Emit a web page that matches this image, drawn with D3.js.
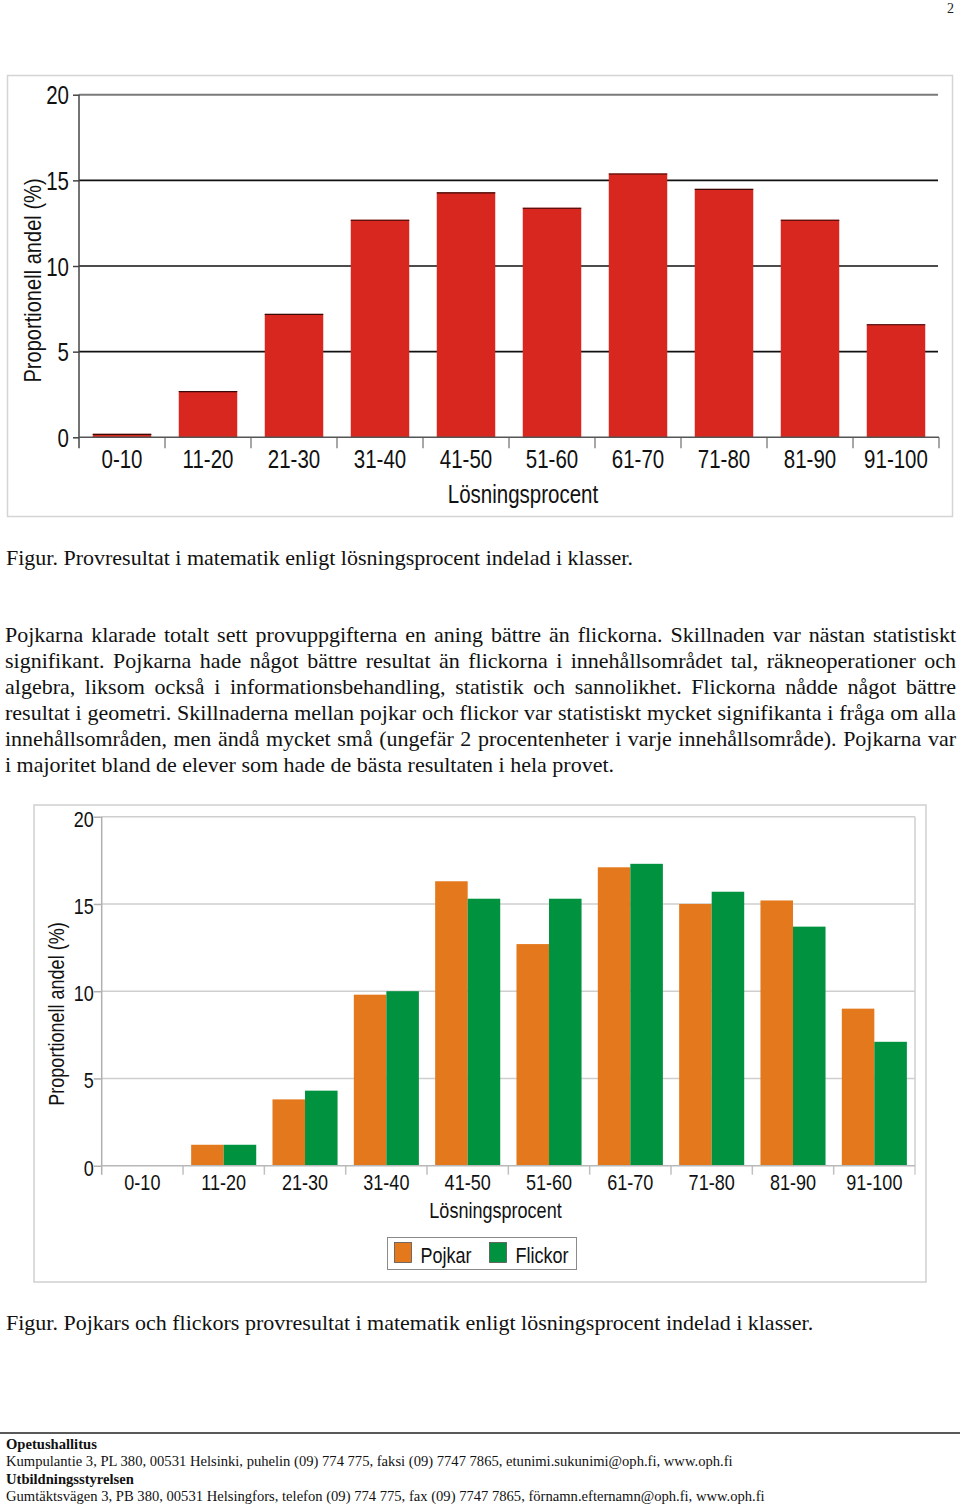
<!DOCTYPE html>
<html>
<head>
<meta charset="utf-8">
<script src="https://cdn.jsdelivr.net/npm/d3@7"></script>
<style>
  body { margin: 0; background: #fff; }
  svg { display: block; }
</style>
</head>
<body>
<script>
// values
const categories = ["0-10", "11-20", "21-30", "31-40", "41-50", "51-60", "61-70", "71-80", "81-90", "91-100"];
const totalShare = [0.2, 2.7, 7.2, 12.7, 14.3, 13.4, 15.4, 14.5, 12.7, 6.6];
const boysShare  = [0, 1.2, 3.8, 9.8, 16.3, 12.7, 17.1, 15.0, 15.2, 9.0];
const girlsShare = [0, 1.2, 4.3, 10.0, 15.3, 15.3, 17.3, 15.7, 13.7, 7.1];
const seriesNames = ["Pojkar", "Flickor"];
const yTicks = [0, 5, 10, 15, 20];

const caption1 = "Figur. Provresultat i matematik enligt lösningsprocent indelad i klasser.";
const caption2 = "Figur. Pojkars och flickors provresultat i matematik enligt lösningsprocent indelad i klasser.";
const paragraph = [
  "Pojkarna klarade totalt sett provuppgifterna en aning bättre än flickorna. Skillnaden var nästan statistiskt",
  "signifikant. Pojkarna hade något bättre resultat än flickorna i innehållsområdet tal, räkneoperationer och",
  "algebra, liksom också i informationsbehandling, statistik och sannolikhet. Flickorna nådde något bättre",
  "resultat i geometri. Skillnaderna mellan pojkar och flickor var statistiskt mycket signifikanta i fråga om alla",
  "innehållsområden, men ändå mycket små (ungefär 2 procentenheter i varje innehållsområde). Pojkarna var",
  "i majoritet bland de elever som hade de bästa resultaten i hela provet."
];
const footer = [
  {text: "Opetushallitus", bold: true},
  {text: "Kumpulantie 3, PL 380, 00531 Helsinki, puhelin (09) 774 775, faksi (09) 7747 7865, etunimi.sukunimi@oph.fi, www.oph.fi", bold: false},
  {text: "Utbildningsstyrelsen", bold: true},
  {text: "Gumtäktsvägen 3, PB 380, 00531 Helsingfors, telefon (09) 774 775, fax (09) 7747 7865, förnamn.efternamn@oph.fi, www.oph.fi", bold: false}
];

const chartFont = "'Liberation Sans', Arial, sans-serif";
const textFont = "'Liberation Serif', 'DejaVu Serif', serif";
const squeeze = 0.82; // chart texts are condensed in the original

let svg = null;

appendSvg("body");
drawTotalChart();
drawGenderChart();
drawTexts();

function appendSvg(domElement) {
  svg = d3.select(domElement).append("svg")
    .attr("width", 960)
    .attr("height", 1508);
}

// squeeze text horizontally around its anchor point
function narrow(selection) {
  selection.each(function() {
    const t = d3.select(this);
    const x = +t.attr("x") || 0;
    const y = +t.attr("y") || 0;
    t.attr("x", 0).attr("y", 0)
      .attr("transform", `translate(${x},${y}) scale(${squeeze},1)`);
  });
}

function chartText(sel, size) {
  return sel.style("font-family", chartFont).style("font-size", size + "px").attr("fill", "#111");
}

function drawTotalChart() {
  const area = {left: 79, right: 939, top: 94.7, bottom: 437.3};
  const g = svg.append("g");

  g.append("rect")
    .attr("x", 7.5).attr("y", 75.5).attr("width", 945).attr("height", 441)
    .attr("fill", "#fff").attr("stroke", "#d4d4d4").attr("stroke-width", 1.5);

  const x = d3.scaleBand()
    .domain(categories)
    .range([area.left, area.right])
    .paddingInner(0.32)
    .paddingOuter(0.16);
  const y = d3.scaleLinear().domain([0, 20]).range([area.bottom, area.top]);

  // grid lines, the top one is grey
  g.selectAll(".grid").data(yTicks.filter(d => d > 0)).enter()
    .append("line")
    .attr("x1", area.left).attr("x2", area.right - 1)
    .attr("y1", d => y(d)).attr("y2", d => y(d))
    .attr("stroke", d => d === 20 ? "#7a7a7a" : "#111")
    .attr("stroke-width", d => d === 20 ? 2 : 1.6);

  // bars
  g.selectAll(".bar").data(totalShare).enter()
    .append("rect")
    .attr("x", (d, i) => x(categories[i]))
    .attr("y", d => y(d))
    .attr("width", x.bandwidth())
    .attr("height", d => y(0) - y(d))
    .attr("fill", "#d8271f");
  g.selectAll(".bartop").data(totalShare).enter()
    .append("line")
    .attr("x1", (d, i) => x(categories[i]))
    .attr("x2", (d, i) => x(categories[i]) + x.bandwidth())
    .attr("y1", d => y(d) + 0.5).attr("y2", d => y(d) + 0.5)
    .attr("stroke", "#3a0a08").attr("stroke-width", 1.2);

  // y axis
  const yAxis = g.append("g")
    .attr("transform", `translate(${area.left},0)`)
    .call(d3.axisLeft(y).tickValues(yTicks).tickSize(6).tickPadding(4).tickSizeOuter(0));
  yAxis.select(".domain").remove();
  yAxis.selectAll("line").attr("stroke", "#444").attr("stroke-width", 1.5);
  chartText(yAxis.selectAll("text").attr("dy", "0.36em"), 25).call(narrow);
  g.append("line")
    .attr("x1", area.left).attr("x2", area.left)
    .attr("y1", area.top).attr("y2", area.bottom + 11)
    .attr("stroke", "#444").attr("stroke-width", 1.5);

  // x axis: ticks on class boundaries
  const bounds = categories.map(c => x(c) - x.step() * x.paddingOuter()).concat([area.right]);
  g.selectAll(".xtick").data(bounds.slice(1)).enter()
    .append("line")
    .attr("x1", d => d).attr("x2", d => d)
    .attr("y1", area.bottom).attr("y2", area.bottom + 11)
    .attr("stroke", "#8a8a8a").attr("stroke-width", 1.5);
  g.append("line")
    .attr("x1", area.left).attr("x2", area.right)
    .attr("y1", area.bottom).attr("y2", area.bottom)
    .attr("stroke", "#555").attr("stroke-width", 1.5);

  const xAxis = g.append("g")
    .attr("transform", `translate(0,${area.bottom})`)
    .call(d3.axisBottom(x).tickSize(0).tickPadding(13));
  xAxis.select(".domain").remove();
  chartText(xAxis.selectAll("text"), 25).call(narrow);

  chartText(g.append("text"), 25)
    .attr("x", 523).attr("y", 503)
    .attr("text-anchor", "middle")
    .text("Lösningsprocent")
    .call(narrow);

  chartText(g.append("text"), 24.5)
    .attr("transform", `translate(41,280.5) rotate(-90) scale(${squeeze},1)`)
    .attr("text-anchor", "middle")
    .text("Proportionell andel (%)");
}

function drawGenderChart() {
  const area = {left: 101.7, right: 915, top: 816.7, bottom: 1165.7};
  const colors = ["#e3781c", "#00923f"];
  const g = svg.append("g");

  g.append("rect")
    .attr("x", 34).attr("y", 805).attr("width", 892).attr("height", 477)
    .attr("fill", "#fff").attr("stroke", "#d0d0d0").attr("stroke-width", 1.5);

  const x0 = d3.scaleBand()
    .domain(categories)
    .range([area.left, area.right])
    .paddingInner(0.2)
    .paddingOuter(0.1);
  const x1 = d3.scaleBand().domain(seriesNames).range([0, x0.bandwidth()]);
  const y = d3.scaleLinear().domain([0, 20]).range([area.bottom, area.top]);

  g.selectAll(".grid").data(yTicks.filter(d => d > 0)).enter()
    .append("line")
    .attr("x1", area.left).attr("x2", area.right)
    .attr("y1", d => y(d)).attr("y2", d => y(d))
    .attr("stroke", "#cfcfcf").attr("stroke-width", 1.5);
  g.append("line")
    .attr("x1", area.right).attr("x2", area.right)
    .attr("y1", area.top).attr("y2", area.bottom + 9)
    .attr("stroke", "#cfcfcf").attr("stroke-width", 1.5);

  const rows = categories.map((c, i) => ({cat: c, values: [boysShare[i], girlsShare[i]]}));
  const groups = g.selectAll(".group").data(rows).enter()
    .append("g")
    .attr("transform", d => `translate(${x0(d.cat)},0)`);
  groups.selectAll("rect")
    .data(d => d.values.map((v, k) => ({name: seriesNames[k], value: v, k: k})))
    .enter()
    .append("rect")
    .attr("x", d => x1(d.name))
    .attr("y", d => y(d.value))
    .attr("width", x1.bandwidth())
    .attr("height", d => y(0) - y(d.value))
    .attr("fill", d => colors[d.k]);

  const yAxis = g.append("g")
    .attr("transform", `translate(${area.left},0)`)
    .call(d3.axisLeft(y).tickValues(yTicks).tickSize(8).tickPadding(0).tickSizeOuter(0));
  yAxis.select(".domain").remove();
  yAxis.selectAll("line").attr("stroke", "#b0b0b0").attr("stroke-width", 1.5);
  chartText(yAxis.selectAll("text").attr("dy", "0.43em"), 22).call(narrow);
  g.append("line")
    .attr("x1", area.left).attr("x2", area.left)
    .attr("y1", area.top).attr("y2", area.bottom + 9)
    .attr("stroke", "#b0b0b0").attr("stroke-width", 1.5);

  const bounds = categories.map(c => x0(c) - x0.step() * x0.paddingOuter());
  g.selectAll(".xtick").data(bounds.slice(1)).enter()
    .append("line")
    .attr("x1", d => d).attr("x2", d => d)
    .attr("y1", area.bottom).attr("y2", area.bottom + 9)
    .attr("stroke", "#c0c0c0").attr("stroke-width", 1.5);
  g.append("line")
    .attr("x1", area.left).attr("x2", area.right)
    .attr("y1", area.bottom).attr("y2", area.bottom)
    .attr("stroke", "#b8b8b8").attr("stroke-width", 1.5);

  const xAxis = g.append("g")
    .attr("transform", `translate(0,${area.bottom})`)
    .call(d3.axisBottom(x0).tickSize(0).tickPadding(9));
  xAxis.select(".domain").remove();
  chartText(xAxis.selectAll("text"), 22).call(narrow);

  chartText(g.append("text"), 22)
    .attr("x", 495.5).attr("y", 1218)
    .attr("text-anchor", "middle")
    .text("Lösningsprocent")
    .call(narrow);

  chartText(g.append("text"), 22)
    .attr("transform", `translate(64,1014) rotate(-90) scale(${squeeze},1)`)
    .attr("text-anchor", "middle")
    .text("Proportionell andel (%)");

  // legend
  const legend = g.append("g").attr("transform", "translate(387.5,1237.5)");
  legend.append("rect")
    .attr("width", 189).attr("height", 32)
    .attr("fill", "#fff").attr("stroke", "#8a8a8a").attr("stroke-width", 1);
  const items = legend.selectAll(".item").data(seriesNames).enter()
    .append("g")
    .attr("transform", (d, i) => `translate(${7 + i * 95},5)`);
  items.append("rect")
    .attr("width", 17).attr("height", 20)
    .attr("fill", (d, i) => colors[i])
    .attr("stroke", "#555").attr("stroke-width", 0.8);
  chartText(items.append("text"), 22)
    .attr("x", 26).attr("y", 20)
    .text(d => d)
    .call(narrow);
}

function drawTexts() {
  const fs = 22;

  svg.append("text")
    .attr("x", 954).attr("y", 13).attr("text-anchor", "end")
    .style("font-family", textFont).style("font-size", "14px").attr("fill", "#222")
    .text("2");

  svg.append("text")
    .attr("x", 6).attr("y", 565)
    .style("font-family", textFont).style("font-size", fs + "px").attr("fill", "#111")
    .text(caption1);

  // justified paragraph: adjust word spacing so lines fill the column
  const lines = svg.selectAll(".para").data(paragraph).enter()
    .append("text")
    .attr("x", 5)
    .attr("y", (d, i) => 642 + i * 26)
    .style("font-family", textFont).style("font-size", fs + "px").attr("fill", "#111")
    .text(d => d);
  lines.each(function(d, i) {
    if (i === paragraph.length - 1) return;
    const len = this.getComputedTextLength();
    const spaces = d.split(" ").length - 1;
    d3.select(this).style("word-spacing", ((951 - len) / spaces) + "px");
  });

  svg.append("text")
    .attr("x", 6).attr("y", 1330)
    .style("font-family", textFont).style("font-size", fs + "px").attr("fill", "#111")
    .text(caption2);

  svg.append("line")
    .attr("x1", 0).attr("x2", 960).attr("y1", 1433).attr("y2", 1433)
    .attr("stroke", "#222").attr("stroke-width", 1.5);

  svg.selectAll(".foot").data(footer).enter()
    .append("text")
    .attr("x", 6)
    .attr("y", (d, i) => 1449 + i * 17.3)
    .style("font-family", textFont).style("font-size", "14.6px")
    .style("font-weight", d => d.bold ? "bold" : "normal")
    .attr("fill", "#111")
    .text(d => d.text);
}
</script>
</body>
</html>
